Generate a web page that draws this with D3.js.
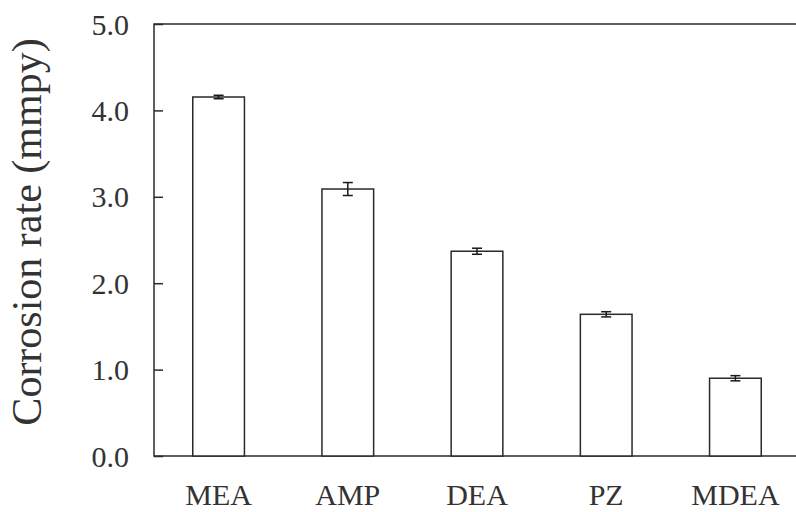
<!DOCTYPE html>
<html>
<head>
<meta charset="utf-8">
<script src="https://cdn.jsdelivr.net/npm/d3@7"></script>
<style>
  body { margin: 0; background: #fff; }
  text { font-family: "Liberation Serif", "DejaVu Serif", serif; fill: #333; }
</style>
</head>
<body>
<div id="my_dataviz"></div>
<script>
// Data
const amines = ["MEA", "AMP", "DEA", "PZ", "MDEA"];
const rates = [4.155, 3.09, 2.37, 1.64, 0.90];
const errors = [0.02, 0.075, 0.035, 0.03, 0.03];
const yTicks = [0, 1, 2, 3, 4, 5];

const W = 796, H = 512;
const margin = { left: 154, right: 800, top: 24, bottom: 456 };

const svg = d3.select("#my_dataviz")
    .append("svg")
    .attr("width", W)
    .attr("height", H);

const x = d3.scaleBand()
    .domain(amines)
    .range([margin.left, margin.right])
    .paddingInner(0.6)
    .paddingOuter(0.3);

const y = d3.scaleLinear()
    .domain([0, 5])
    .range([margin.bottom, margin.top]);

// Frame (right side runs off the picture)
svg.append("rect")
    .attr("x", margin.left)
    .attr("y", margin.top)
    .attr("width", margin.right + 10 - margin.left)
    .attr("height", margin.bottom - margin.top)
    .attr("fill", "none")
    .attr("stroke", "#2a2a2a")
    .attr("stroke-width", 1.5);

// Y axis with inward ticks
const yAxis = svg.append("g")
    .attr("transform", `translate(${margin.left},0)`)
    .call(d3.axisRight(y).tickValues(yTicks).tickSize(9).tickFormat(""));
yAxis.select(".domain").remove();
yAxis.selectAll(".tick line").attr("stroke", "#2a2a2a").attr("stroke-width", 1.5);

svg.selectAll(".ylab")
    .data(yTicks)
    .enter()
    .append("text")
    .attr("class", "ylab")
    .attr("x", 129)
    .attr("y", d => y(d))
    .attr("dy", "0.35em")
    .attr("text-anchor", "end")
    .style("font-size", "30px")
    .text(d => d3.format(".1f")(d));

// Bars
svg.selectAll(".bar")
    .data(amines)
    .enter()
    .append("rect")
    .attr("class", "bar")
    .attr("x", d => x(d))
    .attr("y", (d, i) => y(rates[i]))
    .attr("width", x.bandwidth())
    .attr("height", (d, i) => y(0) - y(rates[i]))
    .attr("fill", "#fff")
    .attr("stroke", "#2a2a2a")
    .attr("stroke-width", 1.5);

// Error bars
const capW = 5;
amines.forEach((a, i) => {
    const cx = x(a) + x.bandwidth() / 2;
    const hi = y(rates[i] + errors[i]);
    const lo = y(rates[i] - errors[i]);
    const g = svg.append("g")
        .attr("stroke", "#1a1a1a")
        .attr("stroke-width", 1.5);
    g.append("line").attr("x1", cx).attr("x2", cx).attr("y1", hi).attr("y2", lo);
    g.append("line").attr("x1", cx - capW).attr("x2", cx + capW).attr("y1", hi).attr("y2", hi);
    g.append("line").attr("x1", cx - capW).attr("x2", cx + capW).attr("y1", lo).attr("y2", lo);
});

// X labels
svg.selectAll(".xlab")
    .data(amines)
    .enter()
    .append("text")
    .attr("class", "xlab")
    .attr("x", d => x(d) + x.bandwidth() / 2)
    .attr("y", 505)
    .attr("text-anchor", "middle")
    .style("font-size", "30px")
    .text(d => d);

// Y title
svg.append("text")
    .attr("transform", "translate(41, 232) rotate(-90)")
    .attr("text-anchor", "middle")
    .style("font-size", "42px")
    .text("Corrosion rate (mmpy)");
</script>
</body>
</html>
